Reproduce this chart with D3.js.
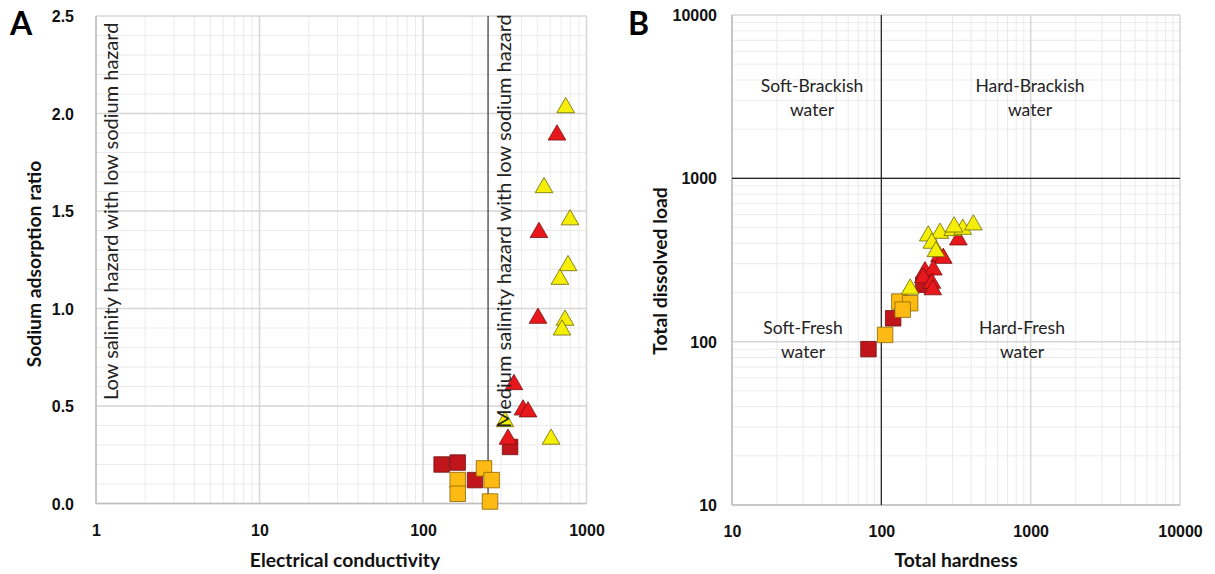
<!DOCTYPE html>
<html>
<head>
<meta charset="utf-8">
<script src="https://cdn.jsdelivr.net/npm/d3@7.9.0/dist/d3.min.js"></script>
<style>
  body { margin: 0; background: #fff; }
  svg { display: block; font-family: Lato, 'Open Sans', sans-serif; }
  .tick text { font-weight: bold; font-size: 16px; fill: #111; }
  .title { font-weight: bold; font-size: 19.3px; fill: #111; }
  .panel { font-weight: bold; font-size: 32px; fill: #000; }
  .note { font-size: 17.5px; fill: #222; }
  .rot { font-size: 20px; fill: #222; }
</style>
</head>
<body>
<svg id="chart" width="1215" height="574"></svg>
<script>
// ---- Panel A: Electrical conductivity vs Sodium adsorption ratio ----
const ecDarkSq  = [130, 163, 208, 341];
const sarDarkSq = [0.20, 0.21, 0.12, 0.29];
const ecOrgSq   = [163, 236, 263, 163, 257];
const sarOrgSq  = [0.12, 0.18, 0.12, 0.05, 0.01];
const ecRedTri  = [660, 512, 505, 360, 409, 439, 331];
const sarRedTri = [1.89, 1.39, 0.95, 0.61, 0.48, 0.47, 0.33];
const ecYelTri  = [746, 550, 793, 771, 688, 739, 708, 317, 607];
const sarYelTri = [2.03, 1.62, 1.455, 1.22, 1.15, 0.94, 0.89, 0.42, 0.33];
const ecLimit = 250;
const aXTicks = [1, 10, 100, 1000];
const aYTicks = [0, 0.5, 1.0, 1.5, 2.0, 2.5];

// ---- Panel B: Total hardness vs Total dissolved load ----
const thDarkSq  = [82, 120, 191];
const tdlDarkSq = [90, 139, 223];
const thOrgSq   = [106, 132, 156, 139];
const tdlOrgSq  = [110, 176, 172, 157];
const thRedTri  = [328, 245, 260, 196, 223, 191, 218, 221];
const tdlRedTri = [420, 332, 324, 268, 275, 246, 228, 208];
const thYelTri  = [206, 247, 301, 351, 413, 218, 232, 156, 307];
const tdlYelTri = [444, 461, 479, 488, 519, 401, 356, 210, 504];
const thLimit = 100, tdlLimit = 1000;
const bTicks = [10, 100, 1000, 10000];

const colors = {
  darkSq: ['#C0161B', '#6e1010'],
  orgSq:  ['#FDBA12', '#8a6500'],
  redTri: ['#E8171C', '#7a1010'],
  yelTri: ['#F4EE08', '#6f6800']
};

const svg = d3.select('#chart');

function zip(xs, ys) { return xs.map((x, i) => ({ x, y: ys[i] })); }

function drawPanel(cfg) {
  const { x, y, xMinor, yMinor, xMajor, yMajor } = cfg;
  const g = svg.append('g');
  const [x0, x1] = x.range(), [y0, y1] = y.range();

  // minor grid
  g.selectAll('.vmin').data(xMinor).join('line')
    .attr('x1', d => x(d)).attr('x2', d => x(d)).attr('y1', y0).attr('y2', y1)
    .attr('stroke', '#ebebeb').attr('stroke-width', 1);
  g.selectAll('.hmin').data(yMinor).join('line')
    .attr('x1', x0).attr('x2', x1).attr('y1', d => y(d)).attr('y2', d => y(d))
    .attr('stroke', '#ebebeb').attr('stroke-width', 1);
  // major grid
  g.selectAll('.vmaj').data(xMajor).join('line')
    .attr('x1', d => x(d)).attr('x2', d => x(d)).attr('y1', y0).attr('y2', y1)
    .attr('stroke', '#d6d6d6').attr('stroke-width', 1.5);
  g.selectAll('.hmaj').data(yMajor).join('line')
    .attr('x1', x0).attr('x2', x1).attr('y1', d => y(d)).attr('y2', d => y(d))
    .attr('stroke', '#d6d6d6').attr('stroke-width', 1.5);

  // axes
  const ax = g.append('g').attr('transform', `translate(0,${y0 + 18})`)
    .call(d3.axisBottom(x).tickValues(xMajor).tickSize(0).tickFormat(cfg.xFmt));
  ax.select('.domain').remove();
  const ay = g.append('g').attr('transform', `translate(${x0 - cfg.yPad},0)`)
    .call(d3.axisLeft(y).tickValues(yMajor).tickSize(0).tickFormat(cfg.yFmt));
  ay.select('.domain').remove();
  ay.selectAll('text').attr('dy', '0.35em');
  g.selectAll('.tick text').attr('font-family', null);

  // axis lines
  g.append('line').attr('x1', x0).attr('x2', x0).attr('y1', y0).attr('y2', y1)
    .attr('stroke', '#bfbfbf').attr('stroke-width', 1.5);
  g.append('line').attr('x1', x0).attr('x2', x1).attr('y1', y0).attr('y2', y0)
    .attr('stroke', '#bfbfbf').attr('stroke-width', 1.5);

  return g;
}

function drawMarkers(g, x, y, data, type, col) {
  const sym = type === 'sq'
    ? d3.symbol(d3.symbolSquare, 240)
    : d3.symbol(d3.symbolTriangle, 135);
  g.selectAll(null).data(data).join('path')
    .attr('d', sym)
    .attr('transform', d => `translate(${x(d.x)},${y(d.y)})`)
    .attr('fill', col[0]).attr('stroke', col[1]).attr('stroke-width', 0.8);
}

function logMinor(lo, hi) {
  const out = [];
  for (let p = lo; p < hi; p *= 10) for (let k = 2; k < 10; k++) out.push(p * k);
  return out;
}

// ===== Panel A =====
const xA = d3.scaleLog().domain([1, 1000]).range([96, 586.5]);
const yA = d3.scaleLinear().domain([0, 2.5]).range([503.5, 16]);
const gA = drawPanel({
  x: xA, y: yA,
  xMinor: logMinor(1, 1000), yMinor: d3.range(0.1, 2.5, 0.1),
  xMajor: aXTicks, yMajor: aYTicks,
  xFmt: d => d, yFmt: d3.format('.1f'), yPad: 19
});

gA.append('line').attr('x1', xA(ecLimit)).attr('x2', xA(ecLimit)).attr('y1', 16).attr('y2', 503.5)
  .attr('stroke', '#333').attr('stroke-width', 1.2);

drawMarkers(gA, xA, yA, zip(ecDarkSq, sarDarkSq), 'sq', colors.darkSq);
drawMarkers(gA, xA, yA, zip(ecOrgSq, sarOrgSq), 'sq', colors.orgSq);
drawMarkers(gA, xA, yA, zip(ecRedTri, sarRedTri), 'tri', colors.redTri);
drawMarkers(gA, xA, yA, zip(ecYelTri, sarYelTri), 'tri', colors.yelTri);

gA.append('text').attr('class', 'rot')
  .attr('transform', `translate(118,400) rotate(-90)`)
  .text('Low salinity hazard with low sodium hazard');
gA.append('text').attr('class', 'rot')
  .attr('transform', `translate(511,428) rotate(-90)`)
  .text('Medium salinity hazard with low sodium hazard');

svg.append('text').attr('class', 'title').attr('text-anchor', 'middle')
  .attr('x', 345).attr('y', 567).text('Electrical conductivity');
svg.append('text').attr('class', 'title').attr('text-anchor', 'middle')
  .attr('transform', 'translate(41,264) rotate(-90)').text('Sodium adsorption ratio');
svg.append('text').attr('class', 'panel').attr('x', 10).attr('y', 35).text('A');

// ===== Panel B =====
const xB = d3.scaleLog().domain([10, 10000]).range([732, 1180]);
const yB = d3.scaleLog().domain([10, 10000]).range([505, 15]);
const gB = drawPanel({
  x: xB, y: yB,
  xMinor: logMinor(10, 10000), yMinor: logMinor(10, 10000),
  xMajor: bTicks, yMajor: bTicks,
  xFmt: d => d, yFmt: d => d, yPad: 12
});

gB.append('line').attr('x1', xB(thLimit)).attr('x2', xB(thLimit)).attr('y1', 15).attr('y2', 505)
  .attr('stroke', '#222').attr('stroke-width', 1.2);
gB.append('line').attr('x1', 732).attr('x2', 1180).attr('y1', yB(tdlLimit)).attr('y2', yB(tdlLimit))
  .attr('stroke', '#222').attr('stroke-width', 1.2);

drawMarkers(gB, xB, yB, zip(thDarkSq, tdlDarkSq), 'sq', colors.darkSq);
drawMarkers(gB, xB, yB, zip(thOrgSq, tdlOrgSq), 'sq', colors.orgSq);
drawMarkers(gB, xB, yB, zip(thRedTri, tdlRedTri), 'tri', colors.redTri);
drawMarkers(gB, xB, yB, zip(thYelTri, tdlYelTri), 'tri', colors.yelTri);

const quadLabels = [
  { t: ['Soft-Brackish', 'water'], cx: 812, cy: 86 },
  { t: ['Hard-Brackish', 'water'], cx: 1030, cy: 86 },
  { t: ['Soft-Fresh', 'water'], cx: 803, cy: 328 },
  { t: ['Hard-Fresh', 'water'], cx: 1022, cy: 328 }
];
quadLabels.forEach(q => {
  q.t.forEach((line, i) => {
    gB.append('text').attr('class', 'note').attr('text-anchor', 'middle')
      .attr('x', q.cx).attr('y', q.cy + i * 24).attr('dy', '0.35em').text(line);
  });
});

svg.append('text').attr('class', 'title').attr('text-anchor', 'middle')
  .attr('x', 956).attr('y', 567).text('Total hardness');
svg.append('text').attr('class', 'title').attr('text-anchor', 'middle')
  .attr('transform', 'translate(667,271) rotate(-90)').text('Total dissolved load');
svg.append('text').attr('class', 'panel').attr('x', 628).attr('y', 35).text('B');
</script>
</body>
</html>
